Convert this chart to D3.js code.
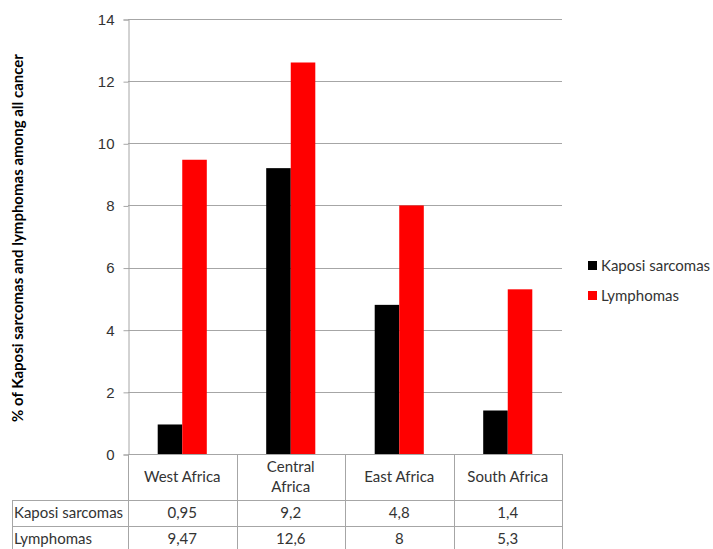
<!DOCTYPE html>
<html>
<head>
<meta charset="utf-8">
<script src="https://cdn.jsdelivr.net/npm/d3@7"></script>
<style>
  body { margin: 0; background: #fff; }
  svg { font-family: Lato, "Open Sans", sans-serif; }
</style>
</head>
<body>
<script>
  // data
  var categories = ["West Africa", "Central Africa", "East Africa", "South Africa"];
  var catLines = [["West Africa"], ["Central", "Africa"], ["East Africa"], ["South Africa"]];
  var seriesNames = ["Kaposi sarcomas", "Lymphomas"];
  var kaposi = [0.95, 9.2, 4.8, 1.4];
  var lymphomas = [9.47, 12.6, 8, 5.3];
  var kaposiLabels = ["0,95", "9,2", "4,8", "1,4"];
  var lymphLabels = ["9,47", "12,6", "8", "5,3"];
  var yTicks = [0, 2, 4, 6, 8, 10, 12, 14];
  var colors = ["#000000", "#ff0000"];

  var width = 713, height = 549;
  var plotLeft = 128, plotRight = 562, plotTop = 19, plotBottom = 454;
  var gridColor = "#a6a6a6", textColor = "#333";

  var svg = d3.select("body").append("svg")
    .attr("width", width)
    .attr("height", height);

  var y = d3.scaleLinear().domain([0, 14]).range([plotBottom, plotTop]);
  var x0 = d3.scaleBand().domain(categories).range([plotLeft, plotRight]);
  var x1 = d3.scaleBand().domain(seriesNames).range([0, x0.bandwidth()]).paddingOuter(1.21);

  // gridlines
  svg.append("g").selectAll("line").data(yTicks).enter().append("line")
    .attr("x1", plotLeft).attr("x2", plotRight)
    .attr("y1", function(d) { return Math.round(y(d)) + 0.5; })
    .attr("y2", function(d) { return Math.round(y(d)) + 0.5; })
    .attr("stroke", gridColor);

  // y axis
  var yAxis = svg.append("g")
    .attr("transform", "translate(" + (plotLeft + 0.5) + ",0.5)")
    .call(d3.axisLeft(y).tickValues(yTicks).tickSize(5).tickPadding(9).tickFormat(d3.format("d")));
  yAxis.select(".domain").attr("stroke", gridColor);
  yAxis.selectAll(".tick line").attr("stroke", gridColor);
  yAxis.selectAll(".tick text").attr("fill", textColor).style("font-size", "15px");

  // bars
  var rows = categories.map(function(c, i) { return { cat: c, vals: [kaposi[i], lymphomas[i]] }; });
  var grp = svg.append("g").selectAll("g").data(rows).enter().append("g")
    .attr("transform", function(d) { return "translate(" + x0(d.cat) + ",0)"; });
  grp.selectAll("rect").data(function(d) {
      return d.vals.map(function(v, j) { return { s: seriesNames[j], v: v, j: j }; });
    }).enter().append("rect")
    .attr("x", function(d) { return x1(d.s); })
    .attr("width", x1.bandwidth())
    .attr("y", function(d) { return y(d.v); })
    .attr("height", function(d) { return plotBottom - y(d.v); })
    .attr("fill", function(d) { return colors[d.j]; });

  // data table
  var tableLeft = 12, headerBottom = 500, row1Bottom = 526, row2Bottom = 560;
  var tbl = svg.append("g").attr("stroke", gridColor).attr("fill", "none");
  var bounds = categories.map(function(c) { return x0(c); }).concat([plotRight]);
  bounds.forEach(function(b) {
    tbl.append("line").attr("x1", Math.round(b) + 0.5).attr("x2", Math.round(b) + 0.5)
      .attr("y1", plotBottom).attr("y2", row2Bottom);
  });
  tbl.append("line").attr("x1", tableLeft + 0.5).attr("x2", tableLeft + 0.5)
    .attr("y1", headerBottom).attr("y2", row2Bottom);
  [headerBottom, row1Bottom].forEach(function(yy) {
    tbl.append("line").attr("x1", tableLeft).attr("x2", plotRight)
      .attr("y1", yy + 0.5).attr("y2", yy + 0.5);
  });

  var txt = svg.append("g").attr("fill", textColor).style("font-size", "15px");
  catLines.forEach(function(lines, i) {
    var cx = x0(categories[i]) + x0.bandwidth() / 2;
    var cy = (plotBottom + headerBottom) / 2;
    lines.forEach(function(l, k) {
      txt.append("text").attr("x", cx)
        .attr("y", cy + (k - (lines.length - 1) / 2) * 20)
        .attr("dy", "0.35em").attr("text-anchor", "middle").text(l);
    });
    txt.append("text").attr("x", cx).attr("y", (headerBottom + row1Bottom) / 2)
      .attr("dy", "0.35em").attr("text-anchor", "middle").text(kaposiLabels[i]);
    txt.append("text").attr("x", cx).attr("y", 539)
      .attr("dy", "0.35em").attr("text-anchor", "middle").text(lymphLabels[i]);
  });
  txt.append("text").attr("x", 14).attr("y", (headerBottom + row1Bottom) / 2)
    .attr("dy", "0.35em").text(seriesNames[0]);
  txt.append("text").attr("x", 14).attr("y", 539)
    .attr("dy", "0.35em").text(seriesNames[1]);

  // legend
  var legend = svg.append("g").selectAll("g").data(seriesNames).enter().append("g")
    .attr("transform", function(d, i) { return "translate(588," + (261 + i * 30) + ")"; });
  legend.append("rect").attr("width", 9).attr("height", 9)
    .attr("fill", function(d, i) { return colors[i]; });
  legend.append("text").attr("x", 13).attr("y", 4.5).attr("dy", "0.35em")
    .attr("fill", textColor).style("font-size", "15px").text(function(d) { return d; });

  // y axis title
  svg.append("text")
    .attr("transform", "translate(23,238) rotate(-90)")
    .attr("text-anchor", "middle")
    .style("font-size", "15px").style("font-weight", "bold")
    .attr("fill", "#000")
    .text("% of Kaposi sarcomas and lymphomas among all cancer");
</script>
</body>
</html>
